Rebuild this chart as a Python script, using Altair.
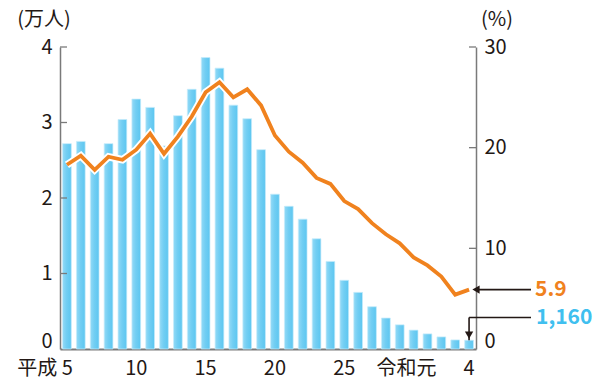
import altair as alt
import pandas as pd

# Fiscal years: Heisei 5 .. Heisei 30, then Reiwa 1 .. Reiwa 4
years = [f"H{i}" for i in range(5, 31)] + ["R1", "R2", "R3", "R4"]

# Number of persons (unit: 10,000 people)
persons = [2.72, 2.75, 2.40, 2.72, 3.04, 3.31, 3.20, 2.69, 3.09, 3.44,
           3.86, 3.72, 3.23, 3.05, 2.64, 2.05, 1.89, 1.72, 1.46, 1.16,
           0.91, 0.75, 0.56, 0.41, 0.32, 0.25, 0.20, 0.16, 0.12, 0.116]

# Rate (%)
rate = [18.3, 19.2, 17.8, 19.1, 18.8, 19.8, 21.4, 19.4, 21.1, 23.1,
        25.5, 26.5, 25.0, 25.8, 24.2, 21.2, 19.6, 18.5, 17.0, 16.4,
        14.7, 13.9, 12.5, 11.4, 10.5, 9.1, 8.3, 7.2, 5.4, 5.9]

# Category-axis labels
label_years = ["H10", "H15", "H20", "H25", "R4"]
label_texts = ["10", "15", "20", "25", "4"]

left_ticks = [0, 1, 2, 3, 4]
right_ticks = [0, 10, 20, 30]

last_person_text = "1,160"
last_rate_text = "5.9"

FONT = "Noto Sans CJK JP"
INK = "#231815"
GRAY = "#7a7a7a"
ORANGE = "#F0821E"
BLUE = "#40BFEF"

df = pd.DataFrame({"year": years, "persons": persons, "rate": rate})
last = df.tail(1)

x_scale = alt.Scale(domain=years, paddingInner=0.37, paddingOuter=0.185)
left_scale = alt.Scale(domain=[0, 4], nice=False)
right_scale = alt.Scale(domain=[0, 30], nice=False)

# the zero label sits a little above the baseline
zero_lift = {"condition": {"test": "datum.value === 0", "value": -8}, "value": 0}

axis_style = dict(
    domainColor=GRAY, domainWidth=1.5, ticks=False, tickSize=0, grid=False,
    labelFont=FONT, labelFontSize=20, labelColor=INK, labelPadding=8,
    labelOffset=zero_lift, title=None,
)
# one axis definition per scale, reused by every layer on that scale
x_axis = alt.Axis(labels=False, ticks=False, tickSize=0, grid=False, title=None,
                  domainColor=GRAY, domainWidth=2)
left_axis = alt.Axis(orient="left", values=left_ticks, **axis_style)
right_axis = alt.Axis(orient="right", values=right_ticks, **axis_style)

bar_fill = alt.LinearGradient(
    gradient="linear",
    stops=[alt.GradientStop(color="#93DAF6", offset=0),
           alt.GradientStop(color="#72CEF3", offset=0.45),
           alt.GradientStop(color="#5CC6F0", offset=1)],
    x1=0, x2=1, y1=0, y2=0,
)


def xcat(field="year:N"):
    return alt.X(field, sort=years, scale=x_scale, axis=x_axis, title=None)


def yleft(field):
    return alt.Y(field, scale=left_scale, axis=left_axis, title=None)


def yright(field):
    return alt.Y(field, scale=right_scale, axis=right_axis, title=None)


bars = alt.Chart(df).mark_bar(color=bar_fill, stroke="#c4ebfa", strokeWidth=0.7).encode(
    x=xcat(), y=yleft("persons:Q"),
)

# inward tick marks on the left axis
lticks = alt.Chart(pd.DataFrame({"v": left_ticks[1:]})).mark_rule(
    color=GRAY, strokeWidth=1.3).encode(
    y=yleft("v:Q"), x=alt.value(0), x2=alt.value(7),
)

# arrow pointing down to the latest bar
arrow2_h = alt.Chart(last).mark_rule(color=INK, strokeWidth=1.6).encode(
    x=xcat(), x2=alt.value(471), y=alt.value(270.5),
)
arrow2_v = alt.Chart(last).mark_rule(color=INK, strokeWidth=1.6).encode(
    x=xcat(), y=yleft("persons:Q"), y2=alt.value(270.5),
)
arrow2_head = alt.Chart(last).mark_point(
    shape="triangle-down", filled=True, size=70, color=INK, opacity=1).encode(
    x=xcat(), y=yleft("persons:Q"), yOffset=alt.value(-5),
)
person_label = alt.Chart(last).mark_text(
    text=last_person_text, font=FONT, fontSize=21, fontWeight="bold",
    color=BLUE, align="left", baseline="middle").encode(
    x=alt.value(476), y=alt.value(270.5),
)

# category labels under the axis
lab_df = pd.DataFrame({"year": label_years, "text": label_texts})
xlabels = alt.Chart(lab_df).mark_text(
    font=FONT, fontSize=20, color=INK, baseline="middle", align="center").encode(
    x=xcat(), y=alt.value(322), text="text:N",
)
heisei = alt.Chart(pd.DataFrame({"year": ["H5"], "text": ["平成 5"]})).mark_text(
    font=FONT, fontSize=20, color=INK, baseline="middle", align="right", dx=6).encode(
    x=xcat(), y=alt.value(322), text="text:N",
)
reiwa = alt.Chart(pd.DataFrame({"year": ["R1"], "text": ["令和元"]})).mark_text(
    font=FONT, fontSize=20, color=INK, baseline="middle", align="right", dx=9).encode(
    x=xcat(), y=alt.value(322), text="text:N",
)

# unit captions above each axis
unit_left = alt.Chart(pd.DataFrame({"t": ["(万人)"]})).mark_text(
    font=FONT, fontSize=20, color=INK, baseline="middle", align="center").encode(
    x=alt.value(-16), y=alt.value(-27), text="t:N")
unit_right = alt.Chart(pd.DataFrame({"t": ["(%)"]})).mark_text(
    font=FONT, fontSize=20, color=INK, baseline="middle", align="center").encode(
    x=alt.value(437), y=alt.value(-27), text="t:N")

left_layer = alt.layer(bars, lticks, arrow2_h, arrow2_v, arrow2_head, person_label,
                       xlabels, heisei, reiwa, unit_left, unit_right)

halo = alt.Chart(df).mark_line(color="white", strokeWidth=7.5).encode(
    x=xcat(), y=yright("rate:Q"),
)
line = alt.Chart(df).mark_line(color=ORANGE, strokeWidth=3.8).encode(
    x=xcat(), y=yright("rate:Q"),
)

rticks = alt.Chart(pd.DataFrame({"v": right_ticks[1:]})).mark_rule(
    color=GRAY, strokeWidth=1.3).encode(
    y=yright("v:Q"), x=alt.value(409), x2=alt.value(416),
)

# arrow pointing at the latest rate on the right axis
arrow1 = alt.Chart(last).mark_rule(color=INK, strokeWidth=1.6).encode(
    x=alt.value(417), x2=alt.value(471), y=yright("rate:Q"),
)
arrow1_head = alt.Chart(last).mark_point(
    shape="triangle-left", filled=True, size=70, color=INK, opacity=1).encode(
    x=alt.value(416), y=yright("rate:Q"),
)
rate_label = alt.Chart(last).mark_text(
    text=last_rate_text, font=FONT, fontSize=21, fontWeight="bold",
    color=ORANGE, align="left", baseline="middle").encode(
    x=alt.value(475), y=yright("rate:Q"),
)

right_layer = alt.layer(halo, line, rticks, arrow1, arrow1_head, rate_label)

chart = alt.layer(left_layer, right_layer).resolve_scale(y="independent").properties(
    width=416, height=302,
    padding={"left": 60, "top": 47, "right": 119, "bottom": 31},
    autosize=alt.AutoSizeParams(type="none"),
    background="white",
).configure_view(stroke=None)

chart.save("out.html", embed_options={"renderer": "svg", "actions": False})
